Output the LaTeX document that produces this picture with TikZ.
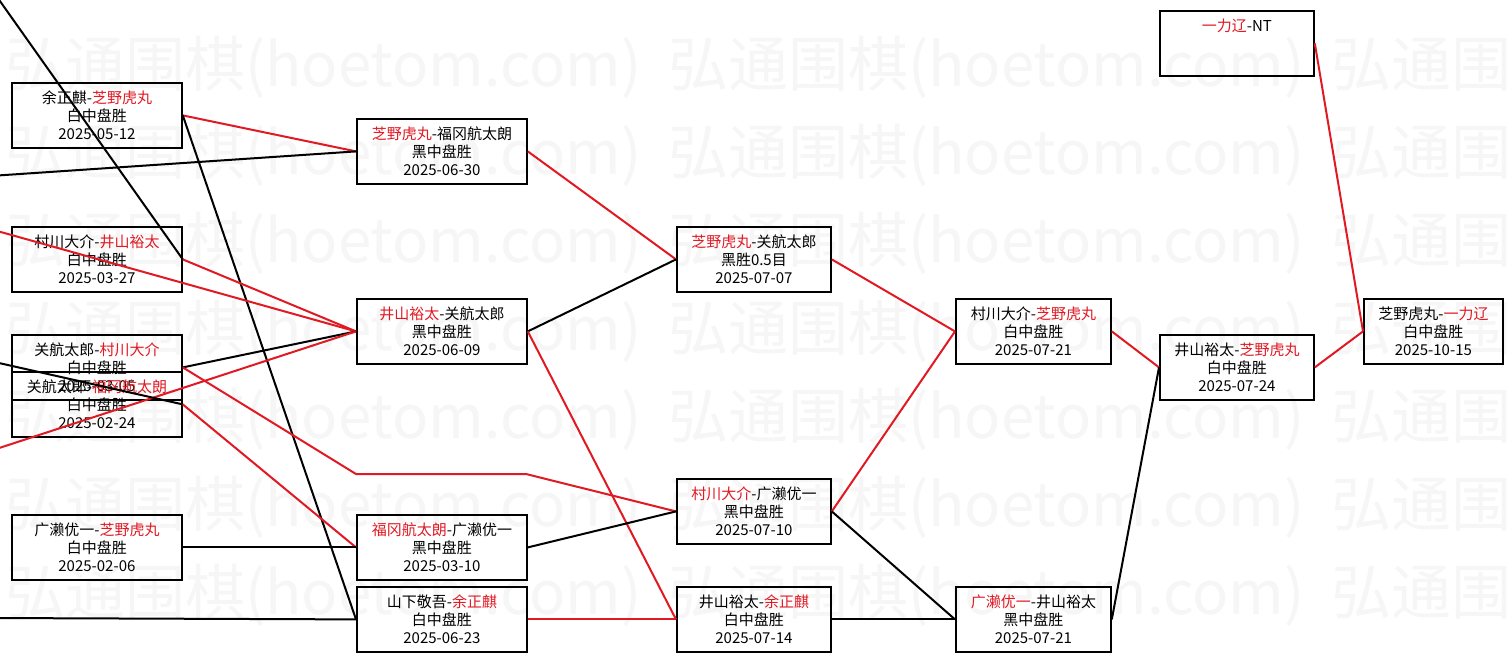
\documentclass[tikz,border=0pt]{standalone}
\usepackage{fontspec}
\setmainfont{Noto Sans CJK SC}
\tikzset{
  game/.style={draw, line width=1.8pt, anchor=north west, minimum width=170pt,
    minimum height=65pt, inner sep=0pt, align=center,
    font=\fontsize{15}{18}\selectfont},
  narrow/.style={minimum width=154pt},
  adv/.style={draw=winR, line width=2pt},
  elim/.style={draw=black, line width=2pt},
  wm/.style={anchor=west, text=wmark, inner sep=0pt, font=\fontsize{60}{60}\selectfont},
}
\definecolor{winR}{RGB}{225,25,35}
\definecolor{wmark}{RGB}{246,246,246}
\newcommand{\winner}[1]{\textcolor{winR}{#1}}

\begin{document}
\begin{tikzpicture}[x=1pt, y=-1pt]
  \useasboundingbox (0,0) rectangle (1512,661);
  \fill[white] (0,0) rectangle (1512,661);
  \clip (0,0) rectangle (1512,661);
  % watermark
  \foreach \r in {0,...,6} {
    \foreach \k in {0,1,2} {
      \node[wm] (wm-\r-\k) at ({5+663*\k},{67+88*\r}) {弘通围棋(hoetom.com)};
    }
  }
  % first column
  \node[game] (yu)   at (11,82)  {余正麒-\winner{芝野虎丸}\\白中盘胜\\2025-05-12};
  \node[game] (mura) at (11,226) {村川大介-\winner{井山裕太}\\白中盘胜\\2025-03-27};
  \node[game] (sekiA) at (11,334) {关航太郎-\winner{村川大介}\\白中盘胜\\2025-03-05};
  \node[game] (sekiB) at (11,371) {关航太郎-\winner{福冈航太朗}\\白中盘胜\\2025-02-24};
  \node[game] (hiro) at (11,514) {广濑优一-\winner{芝野虎丸}\\白中盘胜\\2025-02-06};
  % second column
  \node[game] (shibaA) at (356,118) {\winner{芝野虎丸}-福冈航太朗\\黑中盘胜\\2025-06-30};
  \node[game] (iyamaA) at (356,298) {\winner{井山裕太}-关航太郎\\黑中盘胜\\2025-06-09};
  \node[game] (fuku)   at (356,514) {\winner{福冈航太朗}-广濑优一\\黑中盘胜\\2025-03-10};
  \node[game] (yama)   at (356,586) {山下敬吾-\winner{余正麒}\\白中盘胜\\2025-06-23};
  % third column
  \node[game, narrow] (shibaB) at (676,226) {\winner{芝野虎丸}-关航太郎\\黑胜0.5目\\2025-07-07};
  \node[game, narrow] (muraB)  at (676,478) {\winner{村川大介}-广濑优一\\黑中盘胜\\2025-07-10};
  \node[game, narrow] (iyamaB) at (676,586) {井山裕太-\winner{余正麒}\\白中盘胜\\2025-07-14};
  % fourth column
  \node[game, minimum width=155pt] (muraC) at (955,298) {村川大介-\winner{芝野虎丸}\\白中盘胜\\2025-07-21};
  \node[game, minimum width=155pt] (hiroB) at (955,586) {\winner{广濑优一}-井山裕太\\黑中盘胜\\2025-07-21};
  % semi-final, seed and final
  \node[game, narrow] (iyamaC) at (1159,334) {井山裕太-\winner{芝野虎丸}\\白中盘胜\\2025-07-24};
  \node[game, narrow] (ichi)   at (1159,10)  {\winner{一力辽}-NT\\~\\~};
  \node[game, minimum width=139pt] (final) at (1363,298) {芝野虎丸-\winner{一力辽}\\白中盘胜\\2025-10-15};
  % loose ends beyond the left edge
  \coordinate (offA) at (-10,-13);
  \coordinate (offB) at (-10,176);
  \coordinate (offC) at (-10,229);
  \coordinate (offD) at (-10,361);
  \coordinate (offE) at (-10,451);
  \coordinate (offF) at (-10,618);
  \coordinate (bendA) at (356,474);
  \coordinate (bendB) at (526,474);
  % connectors
  \draw[elim] (offA) -- (mura.east);
  \draw[adv] (yu.east) -- (shibaA.west);
  \draw[elim] (offB) -- (shibaA.west);
  \draw[elim] (yu.east) -- (yama.west);
  \draw[adv] (mura.east) -- (iyamaA.west);
  \draw[adv] (offC) -- (iyamaA.west);
  \draw[elim] (sekiA.east) -- (iyamaA.west);
  \draw[adv] (offE) -- (iyamaA.west);
  \draw[elim] (offD) -- (sekiB.east);
  \draw[adv] (sekiA.east) -- (bendA) -- (bendB) -- (muraB.west);
  \draw[adv] (sekiB.east) -- (fuku.west);
  \draw[elim] (hiro.east) -- (fuku.west);
  \draw[elim] (offF) -- (yama.west);
  \draw[adv] (shibaA.east) -- (shibaB.west);
  \draw[elim] (iyamaA.east) -- (shibaB.west);
  \draw[adv] (iyamaA.east) -- (iyamaB.west);
  \draw[elim] (fuku.east) -- (muraB.west);
  \draw[adv] (yama.east) -- (iyamaB.west);
  \draw[adv] (shibaB.east) -- (muraC.west);
  \draw[adv] (muraB.east) -- (muraC.west);
  \draw[elim] (muraB.east) -- (hiroB.west);
  \draw[elim] (iyamaB.east) -- (hiroB.west);
  \draw[adv] (muraC.east) -- (iyamaC.west);
  \draw[elim] (hiroB.east) -- (iyamaC.west);
  \draw[adv] (iyamaC.east) -- (final.west);
  \draw[adv] (ichi.east) -- (final.west);
\end{tikzpicture}
\end{document}
